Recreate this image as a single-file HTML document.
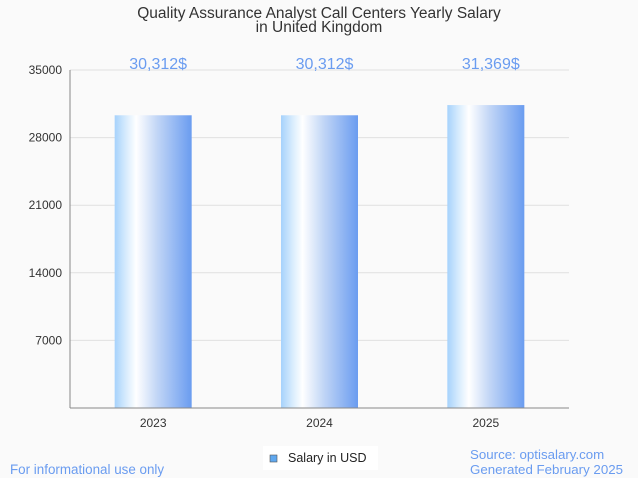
<!DOCTYPE html>
<html><head><meta charset="utf-8"><style>
html,body{margin:0;padding:0;background:#fafafa;width:638px;height:478px;overflow:hidden;font-family:"Liberation Sans",sans-serif}
</style></head><body>
<svg id="chart" width="638" height="478" xmlns="http://www.w3.org/2000/svg">
<defs>
<linearGradient id="bg" x1="0" x2="1" y1="0" y2="0">
<stop offset="0" stop-color="#a6d2fc"/>
<stop offset="0.15" stop-color="#d8ecfd"/>
<stop offset="0.28" stop-color="#ffffff"/>
<stop offset="0.55" stop-color="#c2d6f6"/>
<stop offset="1" stop-color="#6a9cf0"/>
</linearGradient>
</defs>
<rect width="638" height="478" fill="#fafafa"/>
<text x="319" y="18" text-anchor="middle" font-size="15.5" fill="#333">Quality Assurance Analyst Call Centers Yearly Salary</text>
<text x="319" y="32" text-anchor="middle" font-size="15.5" fill="#333">in United Kingdom</text>
<g id="grid"></g>
<g id="bars"></g>
<line x1="70" y1="70" x2="70" y2="408" stroke="#888"/>
<line x1="70" y1="408" x2="569" y2="408" stroke="#888"/>
<g>
<rect x="263" y="446" width="115" height="24" fill="#fff"/>
<rect x="270" y="455" width="7" height="7" fill="#5fa8ef" stroke="#555" stroke-width="0.6"/>
<text x="288" y="462" font-size="12.5" fill="#222">Salary in USD</text>
</g>
<text x="10" y="474" font-size="13.4" fill="#6a9cf0">For informational use only</text>
<text x="470" y="459" font-size="13.3" fill="#6a9cf0">Source: optisalary.com</text>
<text x="470" y="474" font-size="13.3" fill="#6a9cf0">Generated February 2025</text>
</svg>
<script>
const categories = ["2023","2024","2025"];
const salaries = [30312, 30312, 31369];
const valueLabels = ["30,312$","30,312$","31,369$"];
const yTicks = [7000, 14000, 21000, 28000, 35000];
const NS="http://www.w3.org/2000/svg";
const x0=70,x1=569,yTop=70,yBot=408,yMax=35000;
function yS(v){return yBot-(v/yMax)*(yBot-yTop);}
const band=(x1-x0)/categories.length;
function xC(i){return x0+band*(i+0.5);}
function mk(tag,attrs,parent){const e=document.createElementNS(NS,tag);for(const k in attrs)e.setAttribute(k,attrs[k]);parent.appendChild(e);return e;}
const grid=document.getElementById('grid');
yTicks.forEach(t=>{
  const l=mk('line',{x1:x0,x2:x1,y1:yS(t),y2:yS(t),stroke:'#e0e0e0'},grid);
  
  
  const tx=mk('text',{x:62,y:yS(t)+4,'text-anchor':'end','font-size':12,fill:'#333'},grid);
  tx.textContent=t;
  
  
});
const bars=document.getElementById('bars');
const bw=77;
categories.forEach((c,i)=>{
  const y=yS(salaries[i]);
  const r=mk('rect',{x:xC(i)-bw/2,y:y,width:bw,height:yBot-y,fill:'url(#bg)'},bars);
  
  
  const v=mk('text',{x:xC(i)+5,y:69,'text-anchor':'middle','font-size':16,fill:'#6a9cf0'},bars);
  v.textContent=valueLabels[i];
  
  
  const xl=mk('text',{x:xC(i),y:427,'text-anchor':'middle','font-size':12,fill:'#333'},bars);
  xl.textContent=c;
  
  
});
</script>
</body></html>
